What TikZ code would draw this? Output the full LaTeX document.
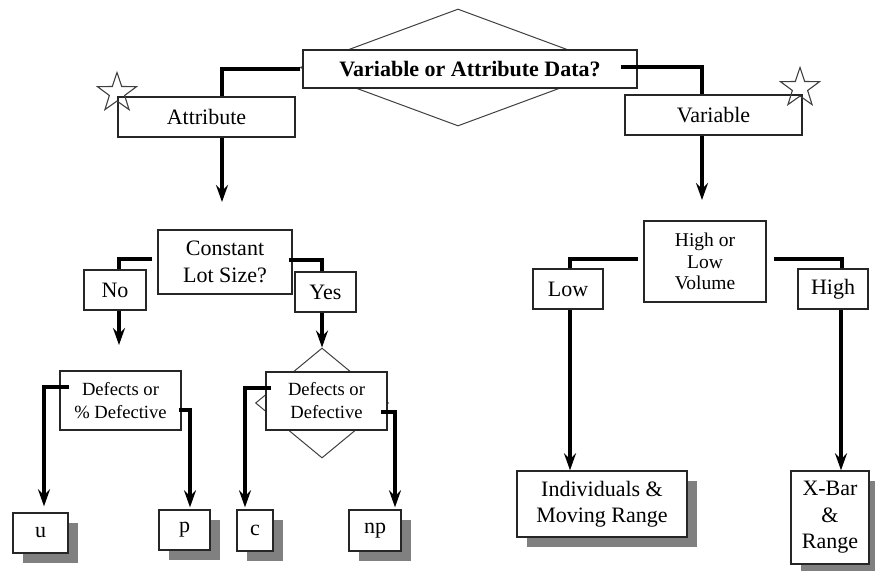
\documentclass[tikz,border=0pt]{standalone}
\usepackage{fontspec}
\setmainfont{Liberation Serif}
\usetikzlibrary{arrows.meta,shapes.geometric,shadows}
\definecolor{edge}{HTML}{262626}
\definecolor{thin}{HTML}{404040}
\definecolor{shade}{HTML}{808080}

\begin{document}
\begin{tikzpicture}[x=1pt,y=-1pt,
  box/.style={rectangle, draw=edge, line width=1.4pt, fill=white, inner sep=0pt,
    align=center, font=\fontsize{22}{26.5}\selectfont},
  smallbox/.style={box, font=\fontsize{18.6}{23}\selectfont},
  result/.style={box, drop shadow={shadow xshift=9.5pt, shadow yshift=-10pt,
    opacity=1, fill=shade}},
  decision/.style={diamond, draw=thin, line width=1pt, inner sep=0pt, fill=white},
  starmark/.style={star, star points=5, star point ratio=2.55, draw=thin,
    line width=1.1pt, minimum size=41pt, inner sep=0pt},
  conn/.style={line width=3.2pt, draw=black},
  flow/.style={conn, -{Stealth[length=17pt, width=12pt, inset=6pt]}},
]
\useasboundingbox (0,0) rectangle (875,570);

% top decision
\node[decision, minimum width=316pt, minimum height=117pt] (bigdia) at (458,67.5) {};
\node[box, font=\bfseries\fontsize{22}{26}\selectfont, minimum width=334pt,
  minimum height=38pt] (q) at (470,69) {Variable or Attribute Data?};

\node[box, minimum width=177pt, minimum height=40pt] (attr) at (206.5,117) {Attribute};
\node[box, minimum width=177pt, minimum height=40pt] (var) at (713.5,115) {Variable};
\node[starmark] (starL) at (117,93) {};
\node[starmark] (starR) at (800,88) {};

\coordinate (attrtip) at (222,202);
\coordinate (vartip) at (702,200);
\draw[conn] ([xshift=-2pt]q.west) -| (attr.north -| attrtip);
\draw[conn] ([xshift=-17pt,yshift=2pt]q.east) -| (var.north -| vartip);
\draw[flow] (attr.south -| attrtip) -- (attrtip);
\draw[flow] (var.south -| vartip) -- (vartip);

% attribute branch
\node[box, minimum width=134pt, minimum height=64pt] (lot) at (225,262) {Constant\\Lot Size?};
\node[box, minimum width=62pt, minimum height=40pt] (no) at (115,290) {No};
\node[box, minimum width=61pt, minimum height=40pt] (yes) at (325.5,292) {Yes};
\draw[conn] ([xshift=-5pt,yshift=3pt]lot.west) -| ([xshift=4pt]no.north);
\draw[conn] ([xshift=-4pt,yshift=2pt]lot.east) -| ([xshift=-3.5pt]yes.north);

\node[decision, minimum width=133pt, minimum height=110pt] (dia2) at (322,403) {};
\coordinate (notip) at (119,345);
\draw[flow] (no.south -| notip) -- (notip);
\draw[flow] (yes.south -| dia2.north) -- (dia2.north);

\node[smallbox, minimum width=121pt, minimum height=59pt] (dpd) at (120.5,400.5) {Defects or\\\% Defective};
\node[smallbox, minimum width=121pt, minimum height=58pt] (dd) at (326.5,401) {Defects or\\Defective};

\node[result, minimum width=55pt, minimum height=40pt] (u) at (40.5,533) {u};
\node[result, minimum width=51pt, minimum height=40pt] (p) at (184.5,530) {p};
\node[result, minimum width=36pt, minimum height=41pt] (c) at (255,530.5) {c};
\node[result, minimum width=52pt, minimum height=41pt] (np) at (375,530.5) {np};

\draw[flow] ([xshift=10pt,yshift=13.5pt]dpd.west) -| ([xshift=3.5pt,yshift=6pt]u.north);
\draw[flow] ([xshift=-3pt,yshift=-9.5pt]dpd.east) -| ([xshift=5.5pt,yshift=2pt]p.north);
\draw[flow] ([xshift=6pt,yshift=13pt]dd.west) -| ([xshift=-10pt,yshift=2pt]c.north);
\draw[flow] ([xshift=-7pt,yshift=-11pt]dd.east) -| ([xshift=20pt,yshift=2pt]np.north);

% variable branch
\node[smallbox, font=\fontsize{19.5}{21.7}\selectfont, minimum width=122pt,
  minimum height=81pt] (vol) at (705,261.5) {High or\\Low\\Volume};
\node[box, minimum width=70pt, minimum height=40pt] (low) at (568,289) {Low};
\node[box, minimum width=70pt, minimum height=40pt] (high) at (833,289) {High};
\draw[conn] ([xshift=-5pt,yshift=2.5pt]vol.west) -| ([xshift=2pt]low.north);
\draw[conn] ([xshift=7pt,yshift=2.5pt]vol.east) -| ([xshift=9pt]high.north);

\node[result, minimum width=170pt, minimum height=66pt] (indiv) at (602,504) {Individuals \&\\Moving Range};
\node[result, minimum width=78pt, minimum height=93pt] (xbar) at (830,517.5) {X-Bar\\\&\\Range};

\draw[flow] ([xshift=2pt]low.south) -- ([xshift=2pt]low.south |- indiv.north);
\draw[flow] ([xshift=8pt]high.south) -- ([xshift=8pt]high.south |- xbar.north);
\end{tikzpicture}
\end{document}
